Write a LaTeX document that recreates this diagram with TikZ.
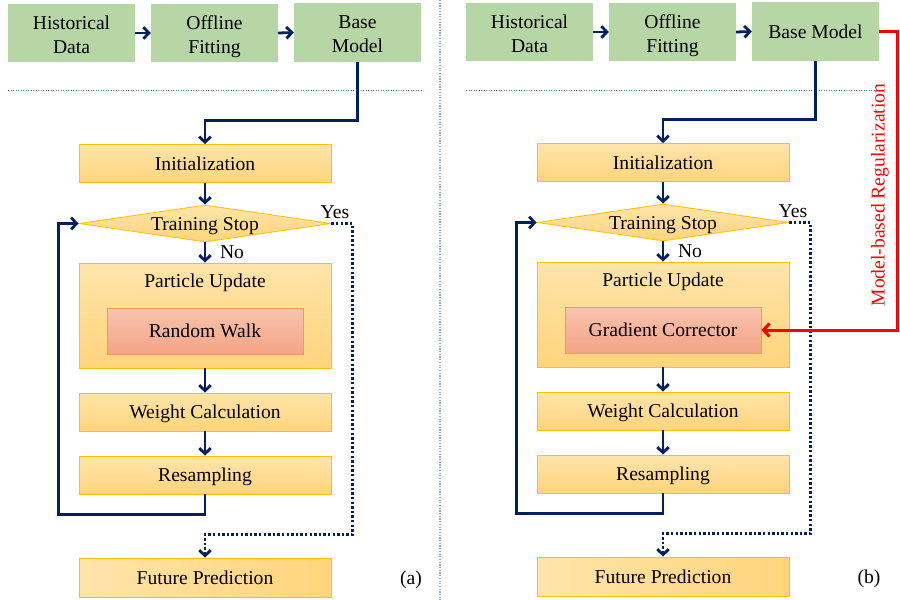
\documentclass[tikz,border=0pt]{standalone}
\usepackage{fontspec}
\setmainfont{Liberation Serif}
\usetikzlibrary{shapes.geometric,arrows.meta,calc}
\definecolor{navy}{HTML}{002060}
\definecolor{grn}{HTML}{B7D6A6}
\definecolor{orL}{HTML}{FFE4AA}
\definecolor{orD}{HTML}{FFD47C}
\definecolor{orB}{HTML}{FFC000}
\definecolor{saL}{HTML}{F8C4AE}
\definecolor{saD}{HTML}{F4A385}
\definecolor{saB}{HTML}{F59A5C}
\definecolor{sepc}{HTML}{8FAADC}
\definecolor{hline}{HTML}{4472C4}
\definecolor{regred}{HTML}{FF0000}
\newcommand{\twol}[2]{\raisebox{-3.5pt}[\height][\depth]{\begin{tabular}{@{}c@{}}#1\\#2\end{tabular}}}
\tikzset{
  txt/.style={font=\fontsize{19.6}{24}\selectfont, inner sep=0pt},
  one/.style={text height=13pt, text depth=0pt},
  greenbox/.style={txt, rectangle, fill=grn, minimum width=127pt, minimum height=58pt},
  orbox/.style={txt, one, rectangle, draw=orB, line width=0.8pt, top color=orL, bottom color=orD, minimum width=252pt, minimum height=38pt},
  orboxh/.style={txt, one, rectangle, draw=orB, line width=0.8pt, left color=orL, right color=orD, minimum width=252pt, minimum height=39pt},
  decis/.style={txt, one, diamond, draw=orB, line width=0.8pt, top color=orL, bottom color=orD, minimum width=252pt, minimum height=37pt, aspect=6.8},
  innerbox/.style={txt, one, rectangle, draw=saB, line width=0.9pt, top color=saL, bottom color=saD, minimum width=196pt, minimum height=46pt},
  flow/.style={draw=navy, line width=2.8pt, -{Straight Barb[length=5.5pt,width=11.5pt]}},
  dotflow/.style={draw=navy, line width=2.8pt, dash pattern=on 2.4pt off 2.2pt, -{Straight Barb[length=5.5pt,width=11.5pt]}},
  regflow/.style={draw=regred, line width=3pt, -{Straight Barb[length=6pt,width=13pt]}},
}
\begin{document}
\begin{tikzpicture}[x=1pt,y=-1pt]
\useasboundingbox (0,0) rectangle (900,600);
% separators
\draw[sepc, line width=1.2pt, dash pattern=on 1.2pt off 1.5pt] (440,0) -- (440,600);
\draw[hline, line width=0.9pt, dash pattern=on 1pt off 1.5pt] (8,90) -- (421,90);
\draw[hline, line width=0.9pt, dash pattern=on 1pt off 1.5pt] (466,90) -- (879,90);

% ---------------- left panel ----------------
\node[greenbox] (hd1) at (71.5,33) {\twol{Historical}{Data}};
\node[greenbox] (of1) at (214.5,33) {\twol{Offline}{Fitting}};
\node[greenbox, minimum height=59pt] (bm1) at (357.5,32.5) {\twol{Base}{Model}};
\node[orbox] (in1) at (205,163.5) {Initialization};
\node[decis] (ts1) at (205,223.5) {Training Stop};
\node[orbox, minimum height=105pt] (pu1) at (205,315.5) {};
\node[txt, one] (put1) at (205,281) {Particle Update};
\node[innerbox] (rw1) at (205,331) {Random Walk};
\node[orbox] (wc1) at (205,412) {Weight Calculation};
\node[orbox] (rs1) at (205,475) {Resampling};
\node[orboxh] (fp1) at (205,577.5) {Future Prediction};
\node[txt, one] (yes1) at (335,212) {Yes};
\node[txt, one] (no1) at (232,252) {No};
\node[txt, one] (lba) at (411,578) {(a)};

\draw[flow] (hd1.east) -- (of1.west);
\draw[flow] (of1.east) -- (bm1.west);
\draw[flow] (bm1.south) |- ($(in1.north)+(0,-24)$) -- (in1.north);
\draw[flow] (in1.south) -- (ts1.north);
\draw[flow] (ts1.south) -- (pu1.north);
\draw[flow] (pu1.south) -- (wc1.north);
\draw[flow] (wc1.south) -- (rs1.north);
\draw[flow] (rs1.south) -- ++(0,20) -| ($(ts1.west)+(-20,0)$) -- (ts1.west);
\draw[dotflow] (ts1.east) -- ++(21,0) |- ($(fp1.north)+(0,-23)$) -- (fp1.north);

% ---------------- right panel ----------------
\node[greenbox] (hd2) at (529.5,32) {\twol{Historical}{Data}};
\node[greenbox] (of2) at (672.5,32) {\twol{Offline}{Fitting}};
\node[greenbox, one, minimum height=59pt] (bm2) at (815.5,31.5) {Base Model};
\node[orbox] (in2) at (663,162.5) {Initialization};
\node[decis] (ts2) at (663,222.5) {Training Stop};
\node[orbox, minimum height=105pt] (pu2) at (663,314.5) {};
\node[txt, one] (put2) at (663,280) {Particle Update};
\node[innerbox] (gc2) at (663,330) {Gradient Corrector};
\node[orbox] (wc2) at (663,411) {Weight Calculation};
\node[orbox] (rs2) at (663,474) {Resampling};
\node[orboxh] (fp2) at (663,576.5) {Future Prediction};
\node[txt, one] (yes2) at (793,211) {Yes};
\node[txt, one] (no2) at (690,251) {No};
\node[txt, one] (lbb) at (869,577) {(b)};
\node[txt, text=regred, rotate=90] (mr) at (880,195) {Model-based Regularization};

\draw[flow] (hd2.east) -- (of2.west);
\draw[flow] (of2.east) -- (bm2.west);
\draw[flow] (bm2.south) |- ($(in2.north)+(0,-24)$) -- (in2.north);
\draw[flow] (in2.south) -- (ts2.north);
\draw[flow] (ts2.south) -- (pu2.north);
\draw[flow] (pu2.south) -- (wc2.north);
\draw[flow] (wc2.south) -- (rs2.north);
\draw[flow] (rs2.south) -- ++(0,20) -| ($(ts2.west)+(-20,0)$) -- (ts2.west);
\draw[dotflow] (ts2.east) -- ++(21,0) |- ($(fp2.north)+(0,-23)$) -- (fp2.north);
\coordinate (rc) at (897,200);
\draw[regflow] (bm2.east) -| (rc) |- (gc2.east);
\end{tikzpicture}
\end{document}
